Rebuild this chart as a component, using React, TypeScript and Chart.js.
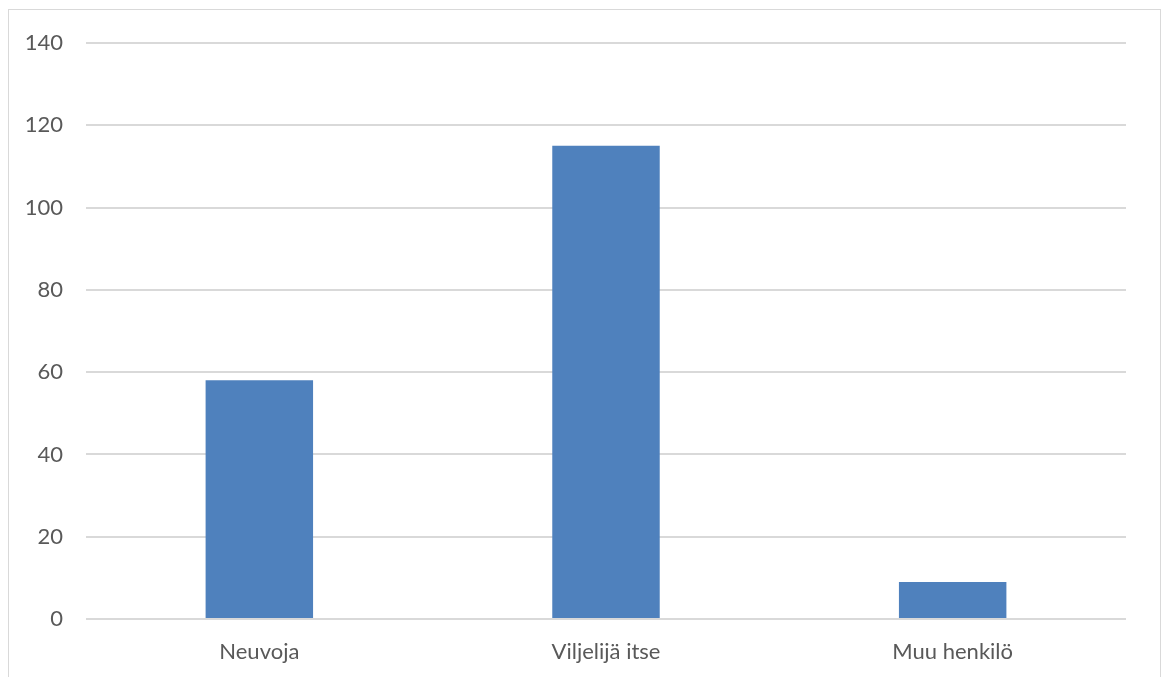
import React, { useEffect, useRef } from "react";
import { Chart, registerables } from "chart.js";

Chart.register(...registerables);

const categories = ["Neuvoja", "Viljelijä itse", "Muu henkilö"];
const values = [58, 115, 9];
const yMin = 0;
const yMax = 140;
const yStep = 20;

export default function App() {
  const ref = useRef<HTMLCanvasElement | null>(null);
  useEffect(() => {
    if (!ref.current) return;
    const chart = new Chart(ref.current, {
      type: "bar",
      data: {
        labels: categories,
        datasets: [
          {
            data: values,
            backgroundColor: "#4f81bd",
            borderWidth: 0,
            categoryPercentage: 1,
            barPercentage: 0.31,
          },
        ],
      },
      options: {
        animation: false,
        responsive: false,
        maintainAspectRatio: false,
        layout: { padding: { left: 0, right: 34, top: 33, bottom: 21 } },
        plugins: { legend: { display: false }, tooltip: { enabled: false } },
        scales: {
          x: {
            grid: { display: false },
            border: { display: false },
            ticks: {
              color: "#595959",
              font: { family: "Lato", size: 22 },
              padding: 12,
              maxRotation: 0,
            },
            afterFit: (s: any) => {
              s.height = 50;
            },
          },
          y: {
            min: yMin,
            max: yMax,
            grid: { color: "#d9d9d9", lineWidth: 2, drawTicks: false },
            border: { display: false },
            ticks: {
              stepSize: yStep,
              color: "#595959",
              font: { family: "Lato", size: 22 },
              padding: 23,
            },
            afterFit: (s: any) => {
              s.width = 77;
              s.paddingTop = 0;
              s.paddingBottom = 0;
            },
          },
        },
      },
    });
    return () => chart.destroy();
  }, []);
  return (
    <div
      style={{
        position: "fixed",
        left: 8,
        top: 9,
        width: 1151,
        height: 680,
        border: "1px solid #d9d9d9",
        background: "#fff",
      }}
    >
      <canvas ref={ref} width={1151} height={680} style={{ display: "block" }} />
    </div>
  );
}
